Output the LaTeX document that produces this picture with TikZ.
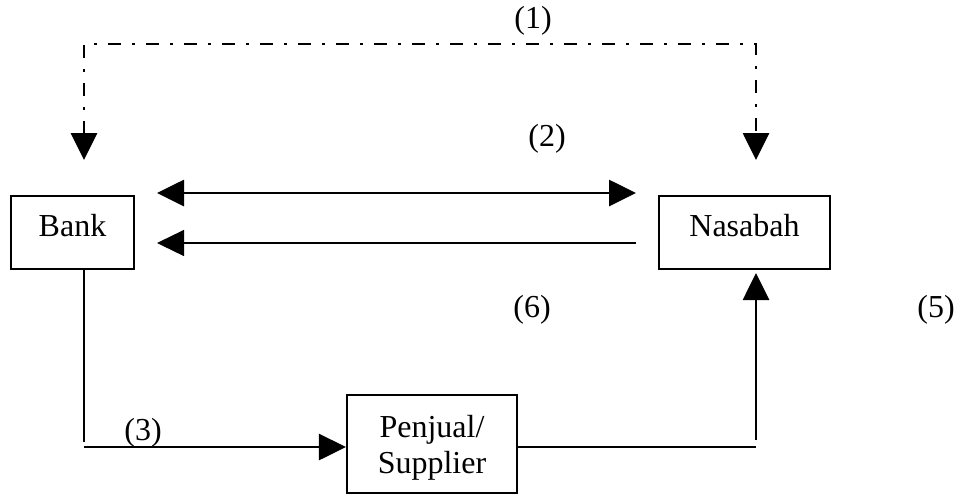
\documentclass[tikz,border=0pt]{standalone}
\usepackage{fontspec}
\setmainfont{Liberation Serif}
\usetikzlibrary{arrows.meta}

\begin{document}
\begin{tikzpicture}[x=0.5pt,y=0.5pt,yscale=-1,xscale=1,
  box/.style={draw,line width=1.05pt,inner sep=0pt,font=\fontsize{16}{18}\selectfont},
  lbl/.style={inner sep=0pt,font=\fontsize{16}{18}\selectfont},
  heavy/.style={line width=1.4pt},
  light/.style={line width=0.65pt},
  dashdot/.style={line width=1.4pt,dash pattern=on 6.5pt off 5.5pt on 1.5pt off 5.5pt},
  >={Triangle[length=13.5pt,width=13pt]}]

\useasboundingbox (0,0) rectangle (958,495);

% boxes
\node [box,minimum width=61.5pt,text height=20pt,text depth=16.5pt] (bank) at (72.5,232.5) {Bank};
\node [box,minimum width=85.5pt,text height=20pt,text depth=16.5pt] (nasabah) at (744.5,232.5) {Nasabah};
\node [box,minimum width=85pt,text height=39pt,text depth=10pt,align=center] (supplier) at (432,444) {Penjual/\\Supplier};

% free ends
\coordinate (tipbank) at (84,160);
\coordinate (tipnasabah) at (756,160);
\coordinate (toprun) at (420,44);
\coordinate (twoleft) at (157,193);
\coordinate (tworight) at (636,193);
\coordinate (sixleft) at (157,243);
\coordinate (sixright) at (636,243);
\coordinate (bankdown) at (84,442);
\coordinate (threestart) at (84,447);
\coordinate (fivecorner) at (756,447);
\coordinate (fiveup) at (756,440);
\coordinate (fivetip) at (756,273);

% connectors
\draw [dashdot,<->] (tipbank) |- (toprun) -| (tipnasabah);
\draw [heavy,<->] (twoleft) -- (tworight);
\draw [light,<-] (sixleft) -- (sixright);
\draw [light] (bank.south -| bankdown) -- (bankdown);
\draw [heavy,->] (threestart) -- (threestart -| supplier.west);
\draw [light] (fivecorner -| supplier.east) -- (fivecorner);
\draw [heavy,->] (fiveup) -- (fivetip);

% labels
\node [lbl] (one) at (533,21) {(1)};
\node [lbl] (two) at (547,139) {(2)};
\node [lbl] (three) at (143,433) {(3)};
\node [lbl] (six) at (532,310) {(6)};
\node [lbl] (five) at (936,310) {(5)};

\end{tikzpicture}
\end{document}
